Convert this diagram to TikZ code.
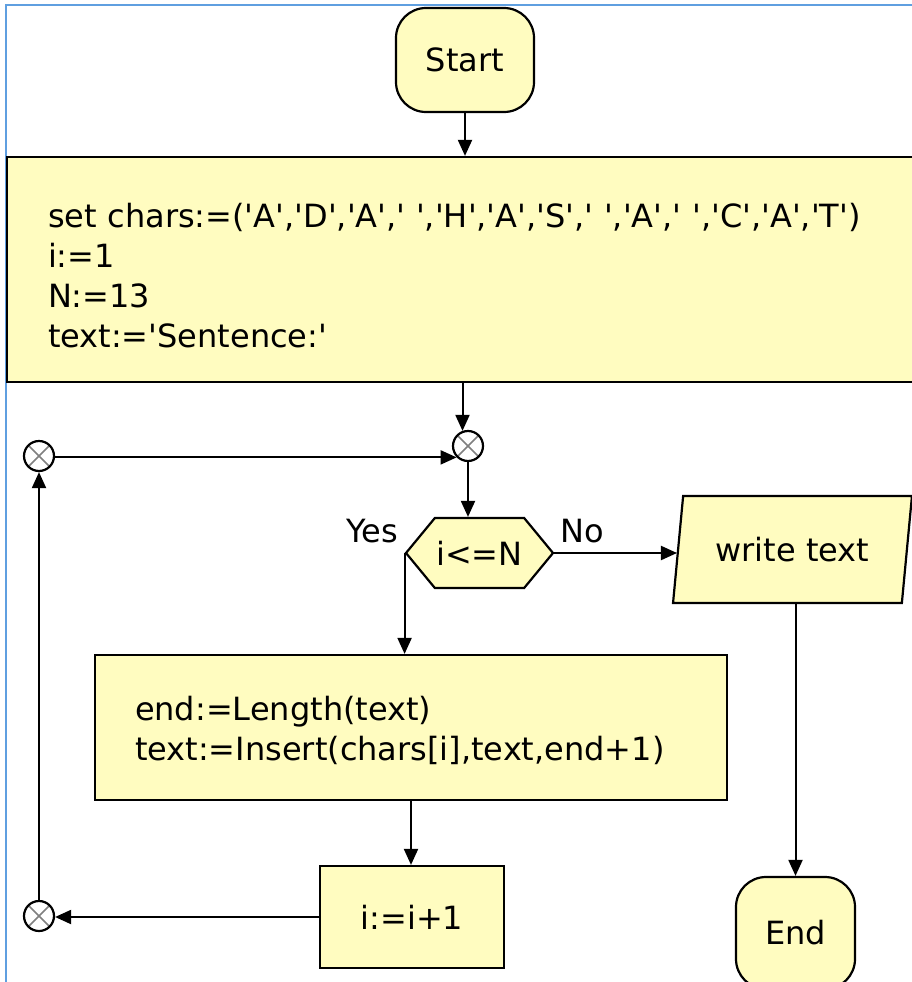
\documentclass[tikz,border=0pt]{standalone}
\usepackage{fontspec}
\setmainfont{DejaVu Sans}[Ligatures=TeXOff]
\usetikzlibrary{arrows.meta,shapes.geometric,shapes.symbols}
\definecolor{boxfill}{HTML}{FFFCC0}
\definecolor{frameblue}{HTML}{5F9FE0}
\begin{document}
\begin{tikzpicture}[x=1pt,y=-1pt,
    block/.style={draw,line width=2.2pt,fill=boxfill,inner sep=0pt,font=\fontsize{32}{40}\selectfont},
    terminal/.style={block,rounded corners=30pt},
    joint/.style={circle,draw,line width=2.2pt,fill=white,inner sep=0pt,minimum size=30pt,
      path picture={\draw[gray,line width=1.6pt] (path picture bounding box.north west) -- (path picture bounding box.south east)
        (path picture bounding box.north east) -- (path picture bounding box.south west);}},
    flow/.style={line width=2pt,-{Triangle[length=16pt,width=14pt]}},
    lbl/.style={font=\fontsize{32}{40}\selectfont}]
  \useasboundingbox (0,0) rectangle (912,982);
  \draw[frameblue,line width=2.8pt] (6,982) -- (6,5) -- (912,5);
  \node[terminal,minimum width=138pt,minimum height=104pt] (start) at (465,60) {Start};
  \node[block,minimum height=225pt,text width=870pt,inner xsep=41pt,align=left] (init) at (483,269.5)
    {\rule{0pt}{36pt}set chars:=('A','D','A',' ','H','A','S',' ','A',' ','C','A','T')\\i:=1\\N:=13\\text:='Sentence:'};
  \node[joint] (c1) at (468,446) {};
  \node[joint] (c2) at (39,456) {};
  \node[joint] (c3) at (39,916) {};
  \node[block,signal,signal to=west and east,signal pointer angle=101,minimum width=147pt,minimum height=70pt] (test) at (479.5,553) {i<=N};
  \node[block,trapezium,trapezium left angle=74,trapezium right angle=106,trapezium stretches=true,
    minimum width=239pt,minimum height=107pt] (out) at (792.5,549.5) {write text};
  \node[block,minimum width=632pt,minimum height=145pt,text width=552pt,inner xsep=40pt,align=left] (upd) at (411,727.5)
    {\rule{0pt}{30pt}end:=Length(text)\\text:=Insert(chars[i],text,end+1)};
  \node[block,minimum width=184pt,minimum height=102pt] (inc) at (412,917) {i:=i+1};
  \node[terminal,minimum width=119pt,minimum height=112pt] (fin) at (795.5,933) {End};
  \node[lbl,anchor=base east] (yes) at ([shift={(-3,-11)}]test.west) {Yes};
  \node[lbl,anchor=base west] (no) at ([shift={(3,-11)}]test.east) {No};
  \draw[flow] (start) -- (start |- init.north);
  \draw[flow] (init.south -| c1.110) -- (c1.110);
  \draw[flow] (c2.east |- c1.south west) -- (c1.south west);
  \draw[flow] (c1.south) -- (c1.south |- test.north);
  \draw[flow] (test.east) -- (test.east -| out.west);
  \draw[flow] (test.west) -- (test.west |- upd.north);
  \draw[flow] (upd.south) -- (upd.south |- inc.north);
  \draw[flow] (inc.west) -- (inc.west -| c3.east);
  \draw[flow] (c3.north) -- (c2.south);
  \draw[flow] (fin.north |- out.south) -- (fin.north);
\end{tikzpicture}
\end{document}
